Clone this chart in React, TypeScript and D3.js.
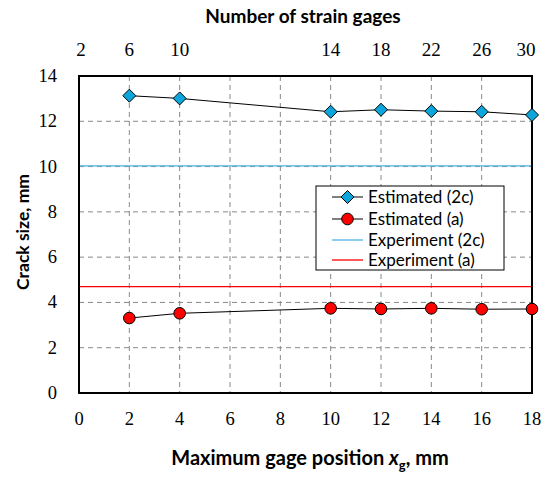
import React from "react";
import * as d3 from "d3";

const xPositions = [2, 4, 10, 12, 14, 16, 18];
const estimated2c = [13.13, 13.01, 12.42, 12.51, 12.45, 12.42, 12.28];
const estimatedA = [3.31, 3.52, 3.74, 3.71, 3.74, 3.7, 3.71];
const experiment2c = 10.03;
const experimentA = 4.7;
const xTicks = [0, 2, 4, 6, 8, 10, 12, 14, 16, 18];
const yTicks = [0, 2, 4, 6, 8, 10, 12, 14];
const topPositions = [0, 2, 4, 10, 12, 14, 16, 18];
const topLabels = ["2", "6", "10", "14", "18", "22", "26", "30"];
const legendLabels = ["Estimated (2c)", "Estimated (a)", "Experiment (2c)", "Experiment (a)"];

const W = 552, H = 477;
const L = 79, R = 532, T = 76, B = 393;

export default function App() {
  const x = d3.scaleLinear().domain([0, 18]).range([L, R]);
  const y = d3.scaleLinear().domain([0, 14]).range([B, T]);
  const line = d3.line<[number, number]>().x(d => x(d[0])).y(d => y(d[1]));
  const d2c = xPositions.map((v, i) => [v, estimated2c[i]] as [number, number]);
  const dA = xPositions.map((v, i) => [v, estimatedA[i]] as [number, number]);
  const serifFont = "'Liberation Serif', 'DejaVu Serif', serif";
  const sansFont = "Lato";
  const diamond = (cx: number, cy: number, r = 6.5) =>
    `M${cx},${cy - r}L${cx + r},${cy}L${cx},${cy + r}L${cx - r},${cy}Z`;
  const legX = 316, legY = 186;
  const rows = [197, 219, 240, 260];
  const topX = (p: number) => Math.max(81, Math.min(526, x(p)));
  return (
    <svg width={W} height={H} style={{ position: "absolute", left: 0, top: 0, background: "#fff" }}>
      <rect width={W} height={H} fill="#fff" />
      {xTicks.filter(t => t > 0 && t < 18).map(t => (
        <line key={"gx" + t} x1={x(t)} x2={x(t)} y1={T} y2={B} stroke="#888" strokeDasharray="5,4" strokeWidth={1} />
      ))}
      {yTicks.filter(t => t > 0 && t < 14).map(t => (
        <line key={"gy" + t} x1={L} x2={R} y1={y(t)} y2={y(t)} stroke="#888" strokeDasharray="5,4" strokeWidth={1} />
      ))}
      <line x1={L} x2={R} y1={y(experiment2c)} y2={y(experiment2c)} stroke="#4db3e6" strokeWidth={1.3} />
      <line x1={L} x2={R} y1={y(experimentA)} y2={y(experimentA)} stroke="#ff0000" strokeWidth={1.3} />
      <rect x={L} y={T} width={R - L} height={B - T} fill="none" stroke="#000" strokeWidth={2} />
      <path d={line(d2c) || ""} fill="none" stroke="#000" strokeWidth={1} />
      <path d={line(dA) || ""} fill="none" stroke="#000" strokeWidth={1} />
      {d2c.map((d, i) => (
        <path key={"dm" + i} d={diamond(x(d[0]), y(d[1]))} fill="#0ca6dd" stroke="#000" strokeWidth={1} />
      ))}
      {dA.map((d, i) => (
        <circle key={"c" + i} cx={x(d[0])} cy={y(d[1])} r={5.8} fill="#ff0000" stroke="#000" strokeWidth={1} />
      ))}
      <g style={{ fontFamily: serifFont }}>
        {xTicks.map(t => (
          <text key={"xl" + t} x={x(t)} y={425} textAnchor="middle" fontSize={18.5}>{t}</text>
        ))}
        {yTicks.map(t => (
          <text key={"yl" + t} x={57} y={y(t) + 6} textAnchor="end" fontSize={18.5}>{t}</text>
        ))}
        {topPositions.map((p, i) => (
          <text key={"tl" + i} x={topX(p)} y={56} textAnchor="middle" fontSize={19}>{topLabels[i]}</text>
        ))}
      </g>
      <g style={{ fontFamily: sansFont }}>
        <text x={303} y={23} textAnchor="middle" fontWeight="bold" fontSize={19}>Number of strain gages</text>
        <text x={310} y={465} textAnchor="middle" fontWeight="bold" fontSize={20}>
          Maximum gage position <tspan fontStyle="italic">x</tspan><tspan fontSize={13} dy={5}>g</tspan><tspan dy={-5}>, mm</tspan>
        </text>
        <text transform={`translate(29,232) rotate(-90)`} textAnchor="middle" fontWeight="bold" fontSize={17.5}>Crack size, mm</text>
        <rect x={legX} y={legY} width={188} height={84} fill="#fff" stroke="#000" strokeWidth={1} />
        <line x1={332} x2={363} y1={rows[0]} y2={rows[0]} stroke="#000" />
        <path d={diamond(347.5, rows[0])} fill="#0ca6dd" stroke="#000" />
        <line x1={332} x2={363} y1={rows[1]} y2={rows[1]} stroke="#000" />
        <circle cx={347.5} cy={rows[1]} r={5.8} fill="#ff0000" stroke="#000" />
        <line x1={332} x2={363} y1={rows[2]} y2={rows[2]} stroke="#4db3e6" strokeWidth={1.3} />
        <line x1={332} x2={363} y1={rows[3]} y2={rows[3]} stroke="#ff0000" strokeWidth={1.3} />
        {legendLabels.map((s, i) => (
          <text key={s} x={368} y={rows[i] + 6} fontSize={17}>{s}</text>
        ))}
      </g>
    </svg>
  );
}
